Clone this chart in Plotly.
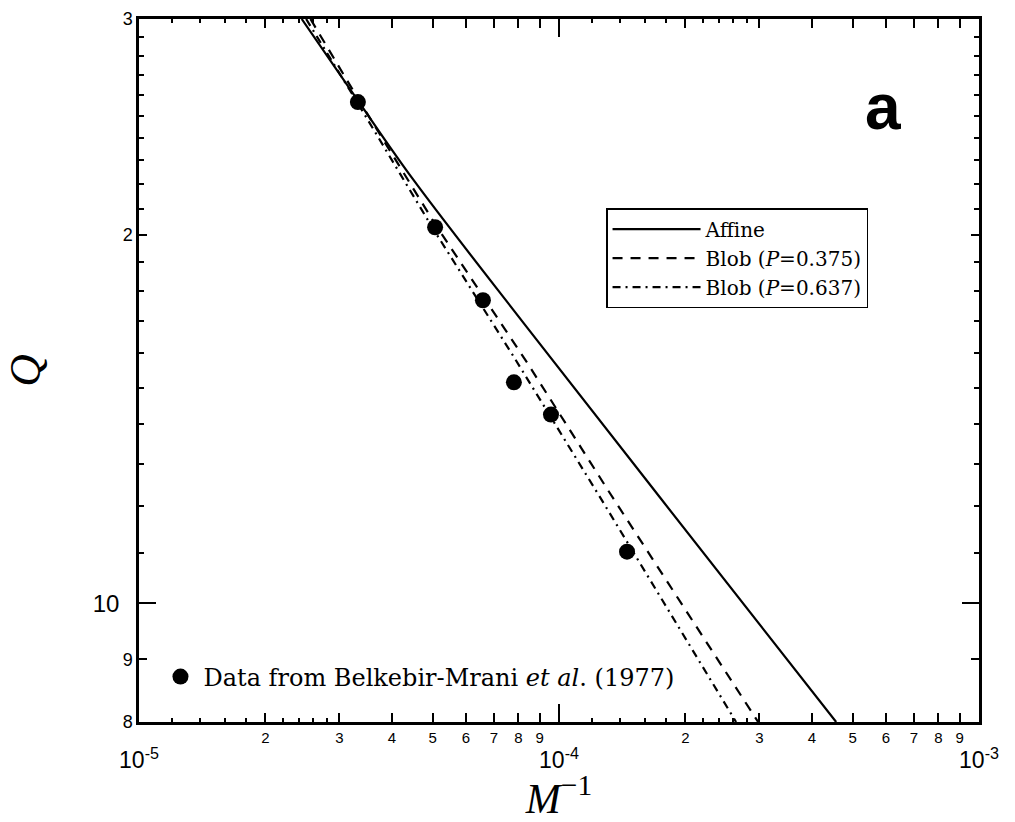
import plotly.graph_objects as go

# ---------------- data ----------------
data_x = [3.32e-5, 5.07e-5, 6.59e-5, 7.81e-5, 9.57e-5, 1.452e-4]
data_y = [25.66, 20.28, 17.68, 15.15, 14.26, 11.02]

affine_x = [2.44e-5, 3.34e-5, 4.49e-5, 8.39e-5, 1.74e-4, 4.57e-4]
affine_y = [30.0, 25.66, 22.20, 16.80, 12.20, 8.0]

blob375_x = [2.56e-5, 3.36e-5, 5.09e-5, 8.39e-5, 1.32e-4, 2.98e-4]
blob375_y = [30.0, 25.66, 20.36, 15.73, 12.31, 8.0]

blob637_x = [2.50e-5, 3.32e-5, 4.98e-5, 7.8e-5, 1.25e-4, 2.64e-4]
blob637_y = [30.0, 25.6, 20.3, 15.9, 12.22, 8.0]

x_minor_vals = [2e-5, 3e-5, 4e-5, 5e-5, 6e-5, 7e-5, 8e-5, 9e-5,
                2e-4, 3e-4, 4e-4, 5e-4, 6e-4, 7e-4, 8e-4, 9e-4]
x_minor_text = ["2", "3", "4", "5", "6", "7", "8", "9",
                "2", "3", "4", "5", "6", "7", "8", "9"]
x_fine_vals = [1.2e-5, 1.4e-5, 1.6e-5, 1.8e-5, 2.2e-5, 2.4e-5, 2.6e-5, 2.8e-5,
               1.2e-4, 1.4e-4, 1.6e-4, 1.8e-4, 2.2e-4, 2.4e-4, 2.6e-4, 2.8e-4]
x_major_vals = [1e-5, 1e-4, 1e-3]
x_major_text = ["10<sup>-5</sup>", "10<sup>-4</sup>", "10<sup>-3</sup>"]

y_minor_vals = [8, 9, 20, 30]
y_minor_text = ["8", "9", "2", "3"]
y_fine_vals = [11, 12, 13, 14, 15, 16, 17, 18, 19, 21, 22, 23, 24, 25, 26, 27, 28, 29]
y_major_vals = [10]
y_major_text = ["10"]

x_range = [-5, -3]
y_range = [0.90309, 1.4771213]

SANS = "Liberation Sans"
SERIF = "Liberation Serif"
LEG = "DejaVu Serif"

fig = go.Figure()

fig.add_trace(go.Scatter(x=affine_x, y=affine_y, mode="lines", name="Affine",
                         line=dict(color="black", width=2.2, shape="spline", smoothing=1.0),
                         legend="legend"))
fig.add_trace(go.Scatter(x=blob375_x, y=blob375_y, mode="lines", name="Blob (<i>P</i>=0.375)",
                         line=dict(color="black", width=2.2, dash="10px,8px"),
                         legend="legend"))
fig.add_trace(go.Scatter(x=blob637_x, y=blob637_y, mode="lines", name="Blob (<i>P</i>=0.637)",
                         line=dict(color="black", width=2.2, dash="8px,5px,2px,5px"),
                         legend="legend"))
fig.add_trace(go.Scatter(x=data_x, y=data_y, mode="markers",
                         name="Data from Belkebir-Mrani <i>et al</i>. (1977)",
                         marker=dict(color="black", size=16, symbol="circle"),
                         legend="legend2"))

# invisible trace to activate the overlay axes
fig.add_trace(go.Scatter(x=[x_major_vals[0]], y=[y_major_vals[0]], xaxis="x2", yaxis="y2",
                         mode="markers", marker=dict(opacity=0), showlegend=False,
                         hoverinfo="skip"))

common_axis = dict(showline=True, linecolor="black", linewidth=2.5, mirror="allticks",
                   ticks="inside", tickcolor="black", showgrid=False, zeroline=False,
                   automargin=False)

fig.update_layout(
    width=1015, height=822,
    margin=dict(l=139, r=36, t=19, b=100, autoexpand=False),
    paper_bgcolor="white", plot_bgcolor="white",
    xaxis=dict(type="log", range=x_range, tickmode="array",
               tickvals=x_minor_vals, ticktext=x_minor_text, ticklen=9, tickwidth=1.8,
               tickfont=dict(family=SANS, size=15, color="black"),
               minor=dict(tickmode="array", tickvals=x_fine_vals, ticklen=4, tickwidth=1.5,
                          ticks="inside", tickcolor="black"),
               title=dict(text="<i>M</i><sup>−1</sup>",
                          font=dict(family=SERIF, size=42, color="black"), standoff=50),
               **common_axis),
    xaxis2=dict(type="log", range=x_range, overlaying="x", anchor="y", side="bottom",
                tickmode="array", tickvals=x_major_vals, ticktext=x_major_text,
                ticklen=18, tickwidth=2, ticklabelstandoff=16,
                tickfont=dict(family=SANS, size=23, color="black"),
                **common_axis),
    yaxis=dict(type="log", range=y_range, tickmode="array",
               tickvals=y_minor_vals, ticktext=y_minor_text, ticklen=8, tickwidth=1.8,
               tickfont=dict(family=SANS, size=18, color="black"),
               minor=dict(tickmode="array", tickvals=y_fine_vals, ticklen=5, tickwidth=1.5,
                          ticks="inside", tickcolor="black"),
               title=dict(text="<i>Q</i>", font=dict(family=SERIF, size=45, color="black"),
                          standoff=72),
               **common_axis),
    yaxis2=dict(type="log", range=y_range, overlaying="y", anchor="x", side="left",
                tickmode="array", tickvals=y_major_vals, ticktext=y_major_text,
                ticklen=17, tickwidth=2, ticklabelstandoff=12,
                tickfont=dict(family=SANS, size=24, color="black"),
                **common_axis),
    legend=dict(x=0.556, y=0.731, xanchor="left", yanchor="top",
                bordercolor="black", borderwidth=1.5, bgcolor="white",
                font=dict(family=LEG, size=20, color="black"),
                tracegroupgap=0, itemwidth=88),
    legend2=dict(x=0.022, y=0.064, xanchor="left", yanchor="middle",
                 bgcolor="rgba(0,0,0,0)", borderwidth=0, itemwidth=36,
                 font=dict(family=LEG, size=24, color="black")),
    annotations=[dict(text="<b>a</b>", xref="paper", yref="paper", x=0.886, y=0.875,
                      xanchor="center", yanchor="middle", showarrow=False,
                      font=dict(family=SANS, size=64, color="black"))],
)

fig.write_html("out.html", config={"displayModeBar": False},
               post_script="document.body.style.margin='0px';")
